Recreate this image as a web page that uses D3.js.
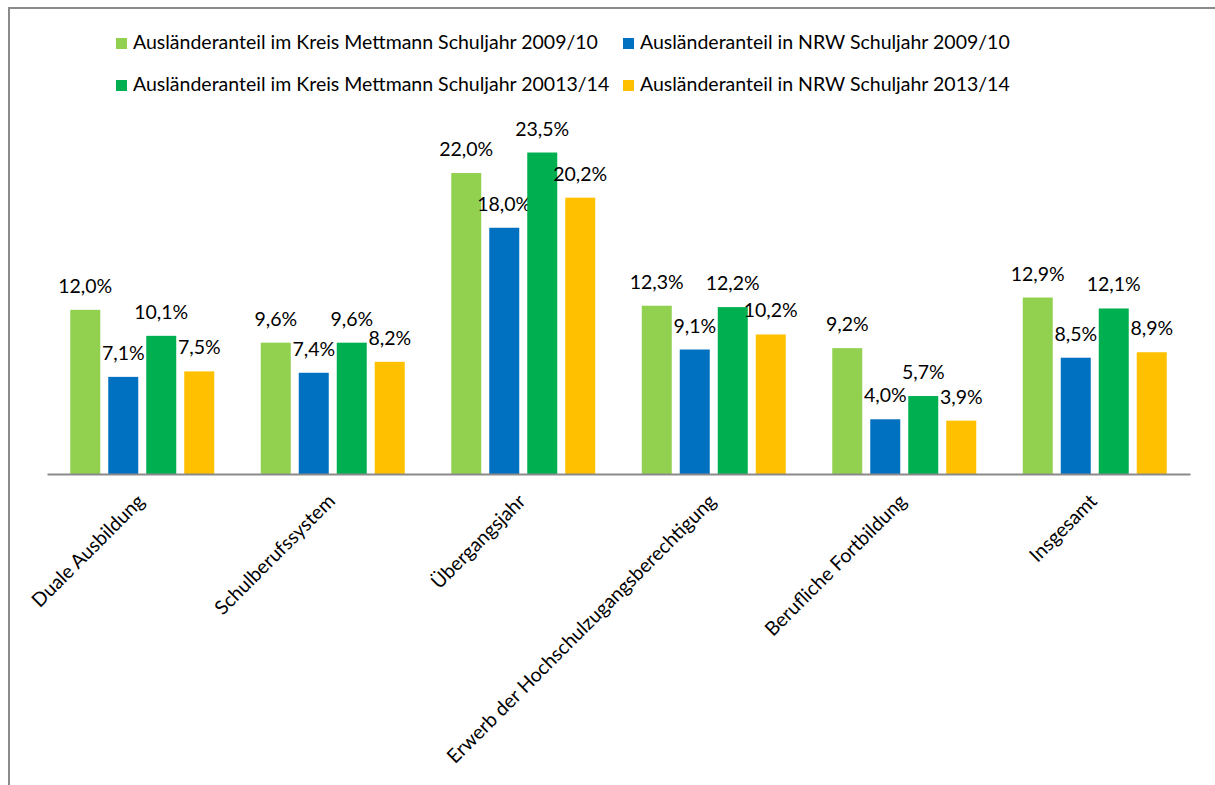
<!DOCTYPE html>
<html><head><meta charset="utf-8">
<script src="https://cdn.jsdelivr.net/npm/d3@7"></script>
<style>
html,body{margin:0;padding:0;background:#fff;}
svg text{font-family:Lato, "Open Sans", sans-serif;fill:#000;}
</style></head>
<body>
<svg id="chart" width="1215" height="785"></svg>
<script>
const categories = ["Duale Ausbildung","Schulberufssystem","Übergangsjahr","Erwerb der Hochschulzugangsberechtigung","Berufliche Fortbildung","Insgesamt"];
const seriesNames = ["Ausländeranteil im Kreis Mettmann Schuljahr 2009/10","Ausländeranteil in NRW Schuljahr 2009/10","Ausländeranteil im Kreis Mettmann Schuljahr 20013/14","Ausländeranteil in NRW Schuljahr 2013/14"];
const kreis2009 = [12.0, 9.6, 22.0, 12.3, 9.2, 12.9];
const nrw2009 = [7.1, 7.4, 18.0, 9.1, 4.0, 8.5];
const kreis2013 = [10.1, 9.6, 23.5, 12.2, 5.7, 12.1];
const nrw2013 = [7.5, 8.2, 20.2, 10.2, 3.9, 8.9];
const colors = ["#92D050","#0070C0","#00B050","#FFC000"];

const series = [kreis2009, nrw2009, kreis2013, nrw2013];
const svg = d3.select("#chart");
const baseY = 474;
const fs = "19.5px";

// frame
svg.append("rect").attr("x",9).attr("y",8).attr("width",1400).attr("height",1000)
  .attr("fill","none").attr("stroke","#8a8a8a").attr("stroke-width",2);

const x0 = d3.scaleBand().domain(categories).range([47,1190]).paddingInner(0).paddingOuter(0);
const x1 = d3.scaleBand().domain(d3.range(4)).range([0,x0.bandwidth()]).paddingInner(8/38).paddingOuter(0.612);
const y = d3.scaleLinear().domain([0,25]).range([baseY, baseY-25*13.68]);

const fmt = v => d3.format(".1f")(v).replace(".", ",") + "%";

const groups = svg.append("g").selectAll("g").data(categories).join("g")
  .attr("transform", d => `translate(${x0(d)},0)`);

groups.each(function(cat, ci){
  const g = d3.select(this);
  series.forEach((s, si) => {
    g.append("rect").attr("x", x1(si)).attr("width", x1.bandwidth())
      .attr("y", y(s[ci])).attr("height", y(0)-y(s[ci])).attr("fill", colors[si]);
    g.append("text").attr("x", x1(si)+x1.bandwidth()/2).attr("y", y(s[ci]) - 17)
      .attr("text-anchor","middle").style("font-size",fs).text(fmt(s[ci]));
  });
});

// axis line
const xAxis = d3.axisBottom(x0).tickSize(0).tickPadding(0);
const ax = svg.append("g").attr("transform",`translate(0,${baseY})`).call(xAxis);
ax.select(".domain").attr("stroke","#8a8a8a").attr("stroke-width",2);
ax.selectAll(".tick text")
  .style("font-size",fs).style("font-family","Lato, sans-serif").attr("fill","#000")
  .attr("text-anchor","end")
  .attr("dy",null).attr("y",null)
  .attr("transform","translate(0,25) rotate(-45)")
  .attr("dominant-baseline","middle");

// legend
const legendPos = [[116,44],[623,44],[116,86],[623,86]];
const lg = svg.append("g").selectAll("g").data(seriesNames).join("g")
  .attr("transform",(d,i)=>`translate(${legendPos[i][0]},${legendPos[i][1]})`);
lg.append("rect").attr("x",0).attr("y",-6).attr("width",11).attr("height",11).attr("fill",(d,i)=>colors[i]);
lg.append("text").attr("x",17).attr("y",0).attr("dominant-baseline","middle").style("font-size",fs).text(d=>d);
</script>
</body></html>
